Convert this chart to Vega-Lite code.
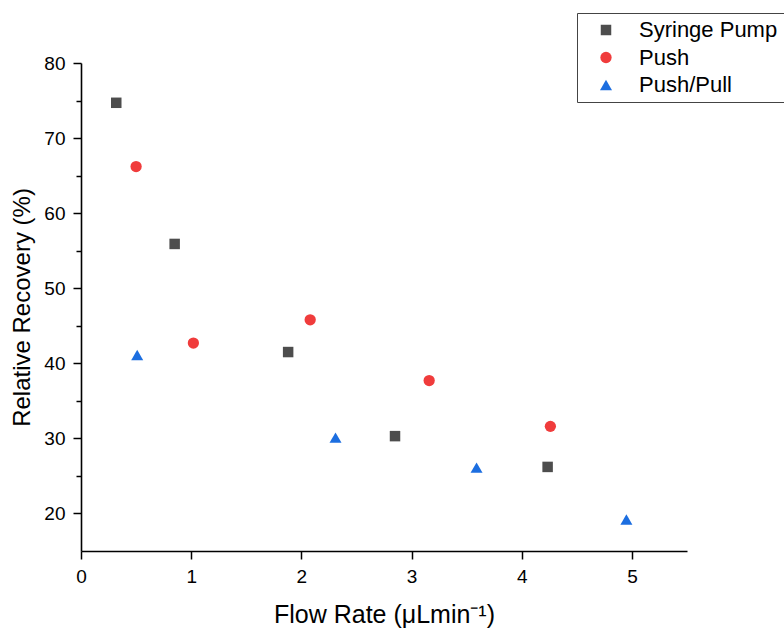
{
  "$schema": "https://vega.github.io/schema/vega-lite/v6.json",
  "autosize": {"type": "none"},
  "width": 606,
  "height": 488,
  "padding": {"left": 81, "top": 63, "right": 97, "bottom": 79},
  "background": "white",
  "data": {
    "values": [
      {"series": "Syringe Pump", "flow": 0.32, "recovery": 74.7},
      {"series": "Syringe Pump", "flow": 0.85, "recovery": 55.9},
      {"series": "Syringe Pump", "flow": 1.88, "recovery": 41.5},
      {"series": "Syringe Pump", "flow": 2.85, "recovery": 30.3},
      {"series": "Syringe Pump", "flow": 4.235, "recovery": 26.2},
      {"series": "Push", "flow": 0.5, "recovery": 66.2},
      {"series": "Push", "flow": 1.02, "recovery": 42.7},
      {"series": "Push", "flow": 2.08, "recovery": 45.8},
      {"series": "Push", "flow": 3.16, "recovery": 37.7},
      {"series": "Push", "flow": 4.26, "recovery": 31.6},
      {"series": "Push/Pull", "flow": 0.51, "recovery": 41.1},
      {"series": "Push/Pull", "flow": 2.31, "recovery": 30.1},
      {"series": "Push/Pull", "flow": 3.59, "recovery": 26.1},
      {"series": "Push/Pull", "flow": 4.95, "recovery": 19.2}
    ]
  },
  "mark": {"type": "point", "filled": true, "opacity": 1},
  "encoding": {
    "x": {
      "field": "flow",
      "type": "quantitative",
      "title": "Flow Rate (μLmin⁻¹)",
      "scale": {"domain": [0, 5.5], "nice": false, "zero": false},
      "axis": {
        "values": [0, 0.5, 1, 1.5, 2, 2.5, 3, 3.5, 4, 4.5, 5, 5.5],
        "format": "d",
        "labelExpr": "datum.value % 1 === 0 ? datum.label : ''",
        "labelFlush": false,
        "labelOverlap": false,
        "tickSize": {"condition": {"test": "datum.value % 1 === 0", "value": 8}, "value": 5},
        "labelPadding": 8,
        "titlePadding": 16,
        "grid": false
      }
    },
    "y": {
      "field": "recovery",
      "type": "quantitative",
      "title": "Relative Recovery (%)",
      "scale": {"domain": [15, 80], "nice": false, "zero": false},
      "axis": {
        "values": [20, 25, 30, 35, 40, 45, 50, 55, 60, 65, 70, 75, 80],
        "labelExpr": "datum.value % 10 === 0 ? datum.label : ''",
        "labelFlush": false,
        "labelOverlap": false,
        "tickSize": {"condition": {"test": "datum.value % 10 === 0", "value": 8}, "value": 5},
        "labelPadding": 8,
        "titlePadding": 9,
        "titleFontSize": 24,
        "grid": false
      }
    },
    "color": {
      "field": "series",
      "type": "nominal",
      "title": null,
      "scale": {"domain": ["Syringe Pump", "Push", "Push/Pull"], "range": ["#4d4d4d", "#f03c3c", "#1c6ee0"]},
      "legend": {
        "orient": "none",
        "legendX": 496,
        "legendY": -50,
        "padding": 6,
        "strokeColor": "#444444",
        "symbolSize": 110,
        "symbolOffset": 12,
        "labelOffset": 22,
        "rowPadding": 5.5,
        "labelFontSize": 22,
        "labelFont": "Liberation Sans",
        "labelColor": "black",
        "symbolOpacity": 1
      }
    },
    "shape": {
      "field": "series",
      "type": "nominal",
      "title": null,
      "scale": {"domain": ["Syringe Pump", "Push", "Push/Pull"], "range": ["square", "circle", "triangle-up"]}
    },
    "size": {
      "field": "series",
      "type": "nominal",
      "legend": null,
      "scale": {"domain": ["Syringe Pump", "Push", "Push/Pull"], "range": [110, 144, 190]}
    }
  },
  "config": {
    "view": {"stroke": null},
    "axis": {
      "domainColor": "black",
      "domainWidth": 1.6,
      "tickColor": "black",
      "tickWidth": 1.5,
      "labelColor": "black",
      "labelFont": "Liberation Sans",
      "labelFontSize": 19,
      "titleFont": "Liberation Sans",
      "titleFontSize": 25,
      "titleFontWeight": "normal",
      "titleColor": "black"
    }
  }
}
